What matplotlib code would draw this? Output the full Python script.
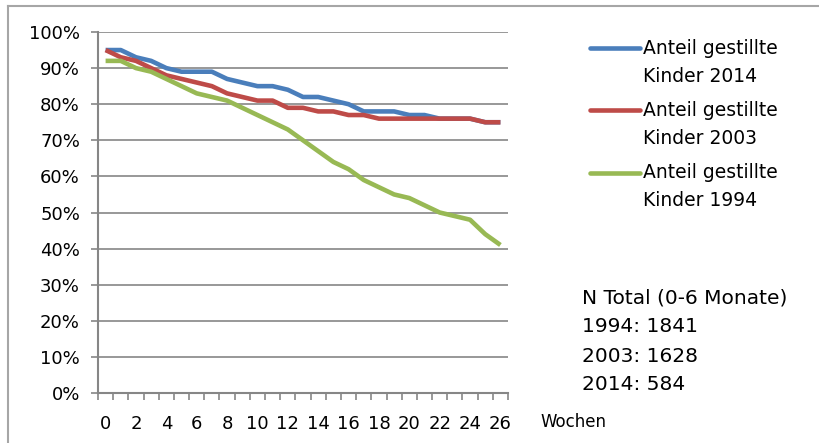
import matplotlib.pyplot as plt
from matplotlib.lines import Line2D

weeks = list(range(27))
kinder_2014 = [95, 95, 93, 92, 90, 89, 89, 89, 87, 86, 85, 85, 84, 82, 82, 81,
               80, 78, 78, 78, 77, 77, 76, 76, 76, 75, 75]
kinder_2003 = [95, 93, 92, 90, 88, 87, 86, 85, 83, 82, 81, 81, 79, 79, 78, 78,
               77, 77, 76, 76, 76, 76, 76, 76, 76, 75, 75]
kinder_1994 = [92, 92, 90, 89, 87, 85, 83, 82, 81, 79, 77, 75, 73, 70, 67, 64,
               62, 59, 57, 55, 54, 52, 50, 49, 48, 44, 41]
labels = ["Anteil gestillte\nKinder 2014", "Anteil gestillte\nKinder 2003",
          "Anteil gestillte\nKinder 1994"]
colors = ["#4a7ebb", "#be4b48", "#98b954"]
n_text = ["N Total (0-6 Monate)", "1994: 1841", "2003: 1628", "2014: 584"]

plt.rcParams['font.family'] = ['DejaVu Sans']

fig = plt.figure(figsize=(8.19, 4.43), dpi=100)
ax = fig.add_axes([98 / 819, 1 - 393 / 443, 410 / 819, 361 / 443])

for series, lab, col in zip([kinder_2014, kinder_2003, kinder_1994], labels, colors):
    ax.plot(weeks, [v / 100 for v in series], color=col, lw=3.3, label=lab,
            solid_capstyle='butt')

ax.set_xlim(-0.5, 26.5)
ax.set_ylim(0, 1)
ax.set_yticks([i / 10 for i in range(11)])
ax.set_yticklabels([f"{i * 10}%" for i in range(11)])
ax.set_xticks(range(0, 27, 2))
ax.set_xticklabels([str(w) for w in range(0, 27, 2)])
ax.set_xticks([w - 0.5 for w in range(28)], minor=True)
ax.tick_params(axis='x', which='major', length=0, pad=16, labelsize=13)
ax.tick_params(axis='x', which='minor', length=5, color='#868686', width=1.2)
ax.tick_params(axis='y', length=5, color='#868686', width=1.2, labelsize=13, pad=8)
ax.grid(axis='y', color='#868686', lw=1.2)
ax.set_axisbelow(True)
for s in ['top', 'right']:
    ax.spines[s].set_visible(False)
for s in ['left', 'bottom']:
    ax.spines[s].set_color('#868686')
    ax.spines[s].set_linewidth(1.5)

ax.text(1.08, -0.08, "Wochen", transform=ax.transAxes, fontsize=12, va='center')

# legend, handle aligned with the first text line as in the original
legend_y = [48, 110, 173]
for lab, col, y in zip(labels, colors, legend_y):
    fig.add_artist(Line2D([590 / 819, 640 / 819], [1 - y / 443, 1 - y / 443],
                          color=col, lw=3.3, solid_capstyle='round'))
    first, second = lab.split("\n")
    fig.text(643 / 819, 1 - y / 443, first, fontsize=13.5, va='center')
    fig.text(643 / 819, 1 - (y + 28) / 443, second, fontsize=13.5, va='center')

for i, t in enumerate(n_text):
    fig.text(582 / 819, 1 - (298 + i * 29) / 443, t, fontsize=14.5, va='center')

# outer frame (top and left edges visible)
fig.add_artist(Line2D([8 / 819, 1], [1 - 6 / 443, 1 - 6 / 443], color='#a6a6a6', lw=1.5))
fig.add_artist(Line2D([8 / 819, 8 / 819], [0, 1 - 6 / 443], color='#a6a6a6', lw=1.5))

fig.savefig("out.png", dpi=100)
